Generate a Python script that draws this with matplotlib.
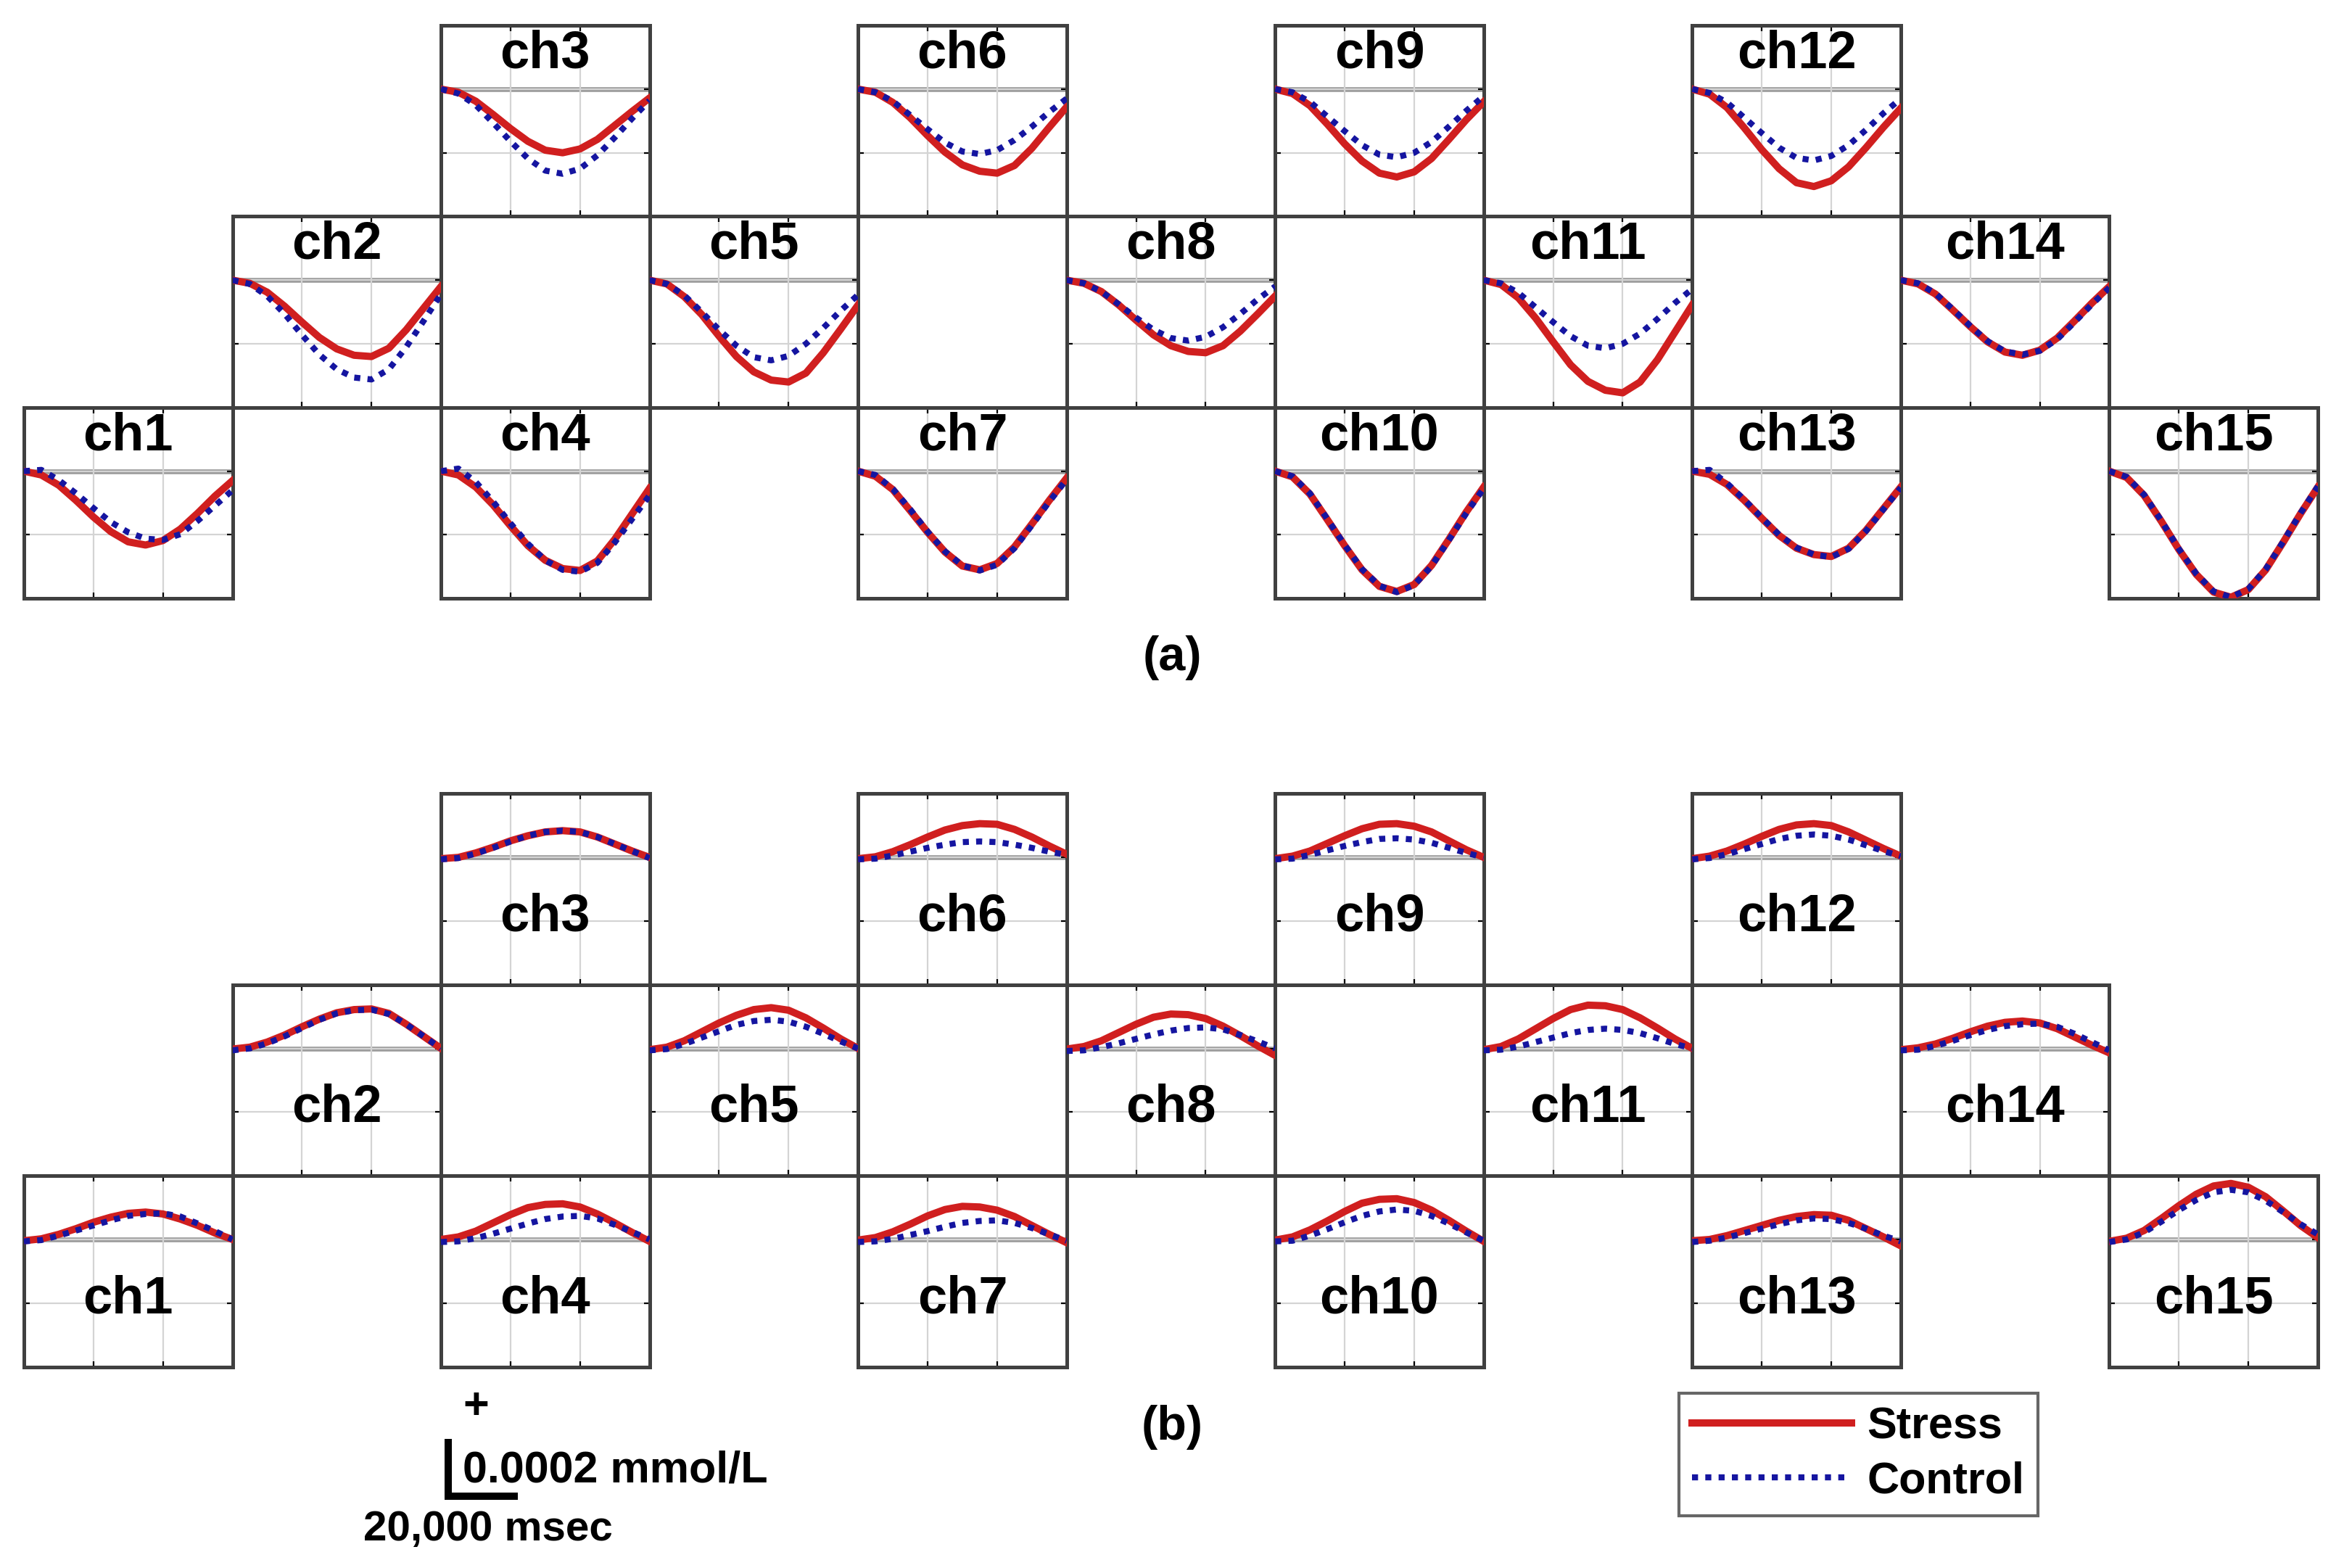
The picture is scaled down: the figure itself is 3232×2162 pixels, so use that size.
import matplotlib
matplotlib.use("Agg")
import matplotlib.pyplot as plt
from matplotlib.lines import Line2D

plt.rcParams['font.family'] = ['Liberation Sans', 'DejaVu Sans']
plt.rcParams['font.weight'] = 'bold'

# time axis (msec) and averaged responses, in units of one y grid step
time_ms = [0, 5000, 10000, 15000, 20000, 25000, 30000, 35000, 40000, 45000, 50000, 55000, 60000]
channels = ['ch1', 'ch2', 'ch3', 'ch4', 'ch5', 'ch6', 'ch7', 'ch8',
            'ch9', 'ch10', 'ch11', 'ch12', 'ch13', 'ch14', 'ch15']

# probe layout: column and row (0 = top) of every channel
chan_col = [0, 1, 2, 2, 3, 4, 4, 5, 6, 6, 7, 8, 8, 9, 10]
chan_row = [2, 1, 0, 2, 1, 0, 2, 1, 0, 2, 1, 0, 2, 1, 2]

# (a)
stress_a = [
    [0, -0.06, -0.22, -0.46, -0.72, -0.95, -1.11, -1.16, -1.09, -0.91, -0.66, -0.39, -0.15],
    [0, -0.05, -0.19, -0.41, -0.66, -0.90, -1.08, -1.18, -1.20, -1.07, -0.78, -0.44, -0.10],
    [0, -0.05, -0.19, -0.40, -0.62, -0.82, -0.96, -1.00, -0.94, -0.79, -0.57, -0.35, -0.14],
    [0, -0.06, -0.25, -0.53, -0.86, -1.17, -1.40, -1.53, -1.56, -1.41, -1.07, -0.67, -0.27],
    [0, -0.06, -0.26, -0.54, -0.88, -1.20, -1.44, -1.57, -1.60, -1.46, -1.14, -0.77, -0.39],
    [0, -0.05, -0.21, -0.45, -0.73, -0.99, -1.19, -1.29, -1.32, -1.20, -0.93, -0.60, -0.28],
    [0, -0.08, -0.29, -0.62, -0.96, -1.27, -1.49, -1.55, -1.45, -1.19, -0.83, -0.46, -0.11],
    [0, -0.05, -0.18, -0.39, -0.63, -0.86, -1.03, -1.12, -1.14, -1.03, -0.80, -0.53, -0.25],
    [0, -0.07, -0.26, -0.55, -0.86, -1.13, -1.32, -1.38, -1.30, -1.09, -0.79, -0.48, -0.20],
    [0, -0.09, -0.36, -0.76, -1.17, -1.55, -1.81, -1.89, -1.78, -1.48, -1.07, -0.64, -0.25],
    [0, -0.07, -0.28, -0.60, -0.97, -1.33, -1.59, -1.73, -1.77, -1.60, -1.25, -0.82, -0.39],
    [0, -0.08, -0.29, -0.61, -0.95, -1.25, -1.47, -1.53, -1.44, -1.22, -0.92, -0.60, -0.30],
    [0, -0.05, -0.21, -0.46, -0.74, -1.01, -1.21, -1.31, -1.34, -1.21, -0.93, -0.59, -0.25],
    [0, -0.06, -0.22, -0.47, -0.73, -0.97, -1.13, -1.18, -1.10, -0.91, -0.64, -0.36, -0.10],
    [0, -0.10, -0.38, -0.79, -1.23, -1.62, -1.90, -1.98, -1.86, -1.55, -1.12, -0.67, -0.25],
]
control_a = [
    [0, 0.02, -0.14, -0.35, -0.58, -0.80, -0.96, -1.06, -1.08, -0.99, -0.78, -0.54, -0.30],
    [0, -0.06, -0.25, -0.53, -0.86, -1.17, -1.40, -1.53, -1.56, -1.40, -1.05, -0.64, -0.22],
    [0, -0.07, -0.25, -0.53, -0.82, -1.09, -1.28, -1.33, -1.25, -1.04, -0.76, -0.46, -0.18],
    [0, 0.04, -0.17, -0.48, -0.82, -1.14, -1.40, -1.55, -1.58, -1.44, -1.12, -0.75, -0.38],
    [0, -0.06, -0.24, -0.50, -0.78, -1.03, -1.21, -1.26, -1.19, -1.00, -0.75, -0.48, -0.23],
    [0, -0.05, -0.19, -0.41, -0.63, -0.84, -0.98, -1.02, -0.96, -0.80, -0.59, -0.36, -0.15],
    [0, -0.06, -0.28, -0.60, -0.95, -1.26, -1.48, -1.56, -1.47, -1.21, -0.85, -0.48, -0.13],
    [0, -0.05, -0.18, -0.38, -0.59, -0.78, -0.91, -0.95, -0.89, -0.74, -0.53, -0.30, -0.10],
    [0, -0.05, -0.20, -0.43, -0.66, -0.88, -1.03, -1.07, -1.00, -0.83, -0.59, -0.34, -0.11],
    [0, -0.08, -0.35, -0.75, -1.16, -1.54, -1.80, -1.90, -1.79, -1.49, -1.08, -0.66, -0.27],
    [0, -0.05, -0.20, -0.43, -0.66, -0.88, -1.03, -1.07, -1.00, -0.84, -0.61, -0.36, -0.14],
    [0, -0.06, -0.21, -0.45, -0.69, -0.92, -1.08, -1.12, -1.05, -0.88, -0.64, -0.38, -0.15],
    [0, 0.02, -0.19, -0.45, -0.73, -1.00, -1.20, -1.31, -1.35, -1.22, -0.94, -0.60, -0.26],
    [0, -0.05, -0.21, -0.46, -0.72, -0.96, -1.12, -1.17, -1.11, -0.93, -0.66, -0.38, -0.12],
    [0, -0.09, -0.37, -0.78, -1.22, -1.61, -1.89, -1.98, -1.85, -1.54, -1.11, -0.66, -0.24],
]

# (b)
stress_b = [
    [-0.02, 0.01, 0.08, 0.17, 0.27, 0.35, 0.41, 0.43, 0.40, 0.32, 0.22, 0.10, 0.00],
    [-0.01, 0.02, 0.10, 0.21, 0.34, 0.46, 0.56, 0.61, 0.62, 0.55, 0.38, 0.19, 0.00],
    [-0.02, 0.00, 0.07, 0.16, 0.26, 0.34, 0.40, 0.42, 0.40, 0.32, 0.21, 0.10, 0.00],
    [0.00, 0.04, 0.13, 0.26, 0.39, 0.50, 0.55, 0.56, 0.51, 0.40, 0.26, 0.11, -0.03],
    [-0.02, 0.02, 0.12, 0.26, 0.40, 0.52, 0.61, 0.64, 0.60, 0.48, 0.32, 0.15, 0.00],
    [-0.02, 0.01, 0.09, 0.20, 0.32, 0.43, 0.50, 0.53, 0.52, 0.44, 0.32, 0.18, 0.05],
    [-0.01, 0.03, 0.12, 0.24, 0.37, 0.47, 0.52, 0.51, 0.46, 0.36, 0.22, 0.08, -0.05],
    [-0.01, 0.03, 0.12, 0.25, 0.38, 0.49, 0.54, 0.53, 0.47, 0.35, 0.20, 0.04, -0.11],
    [-0.02, 0.02, 0.10, 0.22, 0.34, 0.45, 0.52, 0.53, 0.49, 0.40, 0.26, 0.12, 0.00],
    [-0.01, 0.04, 0.15, 0.29, 0.44, 0.57, 0.63, 0.64, 0.58, 0.46, 0.30, 0.13, -0.03],
    [-0.02, 0.03, 0.15, 0.31, 0.47, 0.61, 0.68, 0.67, 0.61, 0.48, 0.32, 0.15, 0.00],
    [-0.02, 0.02, 0.10, 0.21, 0.33, 0.44, 0.51, 0.53, 0.50, 0.40, 0.27, 0.14, 0.02],
    [-0.02, 0.00, 0.06, 0.14, 0.22, 0.30, 0.36, 0.39, 0.38, 0.30, 0.17, 0.04, -0.10],
    [-0.02, 0.01, 0.07, 0.16, 0.26, 0.35, 0.41, 0.43, 0.40, 0.31, 0.18, 0.05, -0.07],
    [-0.03, 0.02, 0.14, 0.33, 0.53, 0.71, 0.84, 0.88, 0.82, 0.67, 0.45, 0.22, 0.03],
]
control_b = [
    [-0.03, -0.01, 0.06, 0.14, 0.22, 0.30, 0.37, 0.40, 0.41, 0.36, 0.25, 0.13, 0.00],
    [-0.03, 0.00, 0.08, 0.19, 0.32, 0.45, 0.55, 0.60, 0.61, 0.54, 0.38, 0.19, 0.00],
    [-0.03, -0.01, 0.06, 0.15, 0.25, 0.34, 0.40, 0.42, 0.40, 0.32, 0.21, 0.10, -0.01],
    [-0.04, -0.03, 0.02, 0.09, 0.17, 0.25, 0.32, 0.36, 0.37, 0.33, 0.23, 0.12, 0.00],
    [-0.03, -0.01, 0.07, 0.17, 0.27, 0.37, 0.43, 0.45, 0.42, 0.34, 0.23, 0.11, 0.00],
    [-0.03, -0.02, 0.03, 0.09, 0.15, 0.20, 0.24, 0.25, 0.24, 0.20, 0.15, 0.09, 0.04],
    [-0.04, -0.03, 0.01, 0.07, 0.13, 0.20, 0.26, 0.29, 0.30, 0.26, 0.18, 0.08, -0.02],
    [-0.04, -0.03, 0.02, 0.08, 0.15, 0.22, 0.28, 0.32, 0.33, 0.30, 0.21, 0.11, 0.00],
    [-0.03, -0.02, 0.04, 0.11, 0.18, 0.24, 0.29, 0.30, 0.28, 0.23, 0.15, 0.07, 0.00],
    [-0.03, -0.02, 0.06, 0.16, 0.27, 0.37, 0.44, 0.47, 0.45, 0.37, 0.25, 0.11, -0.02],
    [-0.03, -0.02, 0.03, 0.10, 0.17, 0.24, 0.29, 0.31, 0.29, 0.24, 0.16, 0.07, 0.00],
    [-0.03, -0.01, 0.05, 0.13, 0.21, 0.29, 0.34, 0.36, 0.34, 0.28, 0.19, 0.10, 0.02],
    [-0.04, -0.02, 0.03, 0.10, 0.17, 0.24, 0.30, 0.33, 0.32, 0.26, 0.17, 0.06, -0.03],
    [-0.03, -0.02, 0.04, 0.12, 0.21, 0.29, 0.35, 0.38, 0.39, 0.34, 0.23, 0.10, -0.03],
    [-0.04, 0.00, 0.11, 0.28, 0.46, 0.62, 0.74, 0.78, 0.74, 0.61, 0.43, 0.24, 0.08],
]

scale_y = 0.9          # 0.0002 mmol/L in grid units
scale_x = 20000        # msec

RED = '#d01f1f'
BLUE = '#1515a0'
DOT = (0, (1, 1.2))

W, H = 3232, 2162
fig = plt.figure(figsize=(W / 200, H / 200), dpi=200)

# geometry in the 1568-wide layout
SW, SH = 1568.0, 1049.0
col_w, row_h, x0 = 139.5, 127.8, 16.0


def add_panel(ch, top, stress, control, label_y):
    c, r = chan_col[ch], chan_row[ch]
    left = (x0 + c * col_w) / SW
    bottom = 1 - (top + (r + 1) * row_h) / SH
    ax = fig.add_axes([left, bottom, col_w / SW, row_h / SH])
    ax.set_xlim(0, 60000)
    ax.set_ylim(-2, 1)
    ax.set_xticks([20000, 40000])
    ax.set_yticks([-1, 0])
    ax.tick_params(direction='in', length=3, width=0.8, labelbottom=False,
                   labelleft=False, right=True, top=True)
    ax.grid(True, color='#d4d4d4', lw=0.8, zorder=0)
    ax.axhline(0, color='#9c9c9c', lw=2.4, zorder=1)
    for s in ax.spines.values():
        s.set_color('#404040')
        s.set_linewidth(1.8)
    ax.plot(time_ms, stress, color=RED, lw=3.6, zorder=3)
    ax.plot(time_ms, control, color=BLUE, lw=3.0, ls=DOT, zorder=4)
    ax.text(0.5, label_y, channels[ch], transform=ax.transAxes, ha='center',
            va='center', fontsize=26, fontweight='bold', zorder=5)
    return ax


for i in range(len(channels)):
    add_panel(i, 17.0, stress_a[i], control_a[i], 0.85)
    add_panel(i, 531.0, stress_b[i], control_b[i], 0.355)

fig.text(784 / SW, 1 - 440 / SH, '(a)', ha='center', va='center', fontsize=24, fontweight='bold')
fig.text(784 / SW, 1 - 955 / SH, '(b)', ha='center', va='center', fontsize=24, fontweight='bold')

# scale bar, drawn on an invisible axes with the same data scale as a panel
sb = fig.add_axes([300 / SW, 1 - 1001 / SH, col_w / SW, row_h / SH])
sb.set_xlim(0, 60000)
sb.set_ylim(0, 3)
sb.axis('off')
sb.plot([0, 0, scale_x], [scale_y, 0, 0], color='black', lw=3.6, solid_joinstyle='miter',
        solid_capstyle='butt', clip_on=False)
sb.text(4000, scale_y * 0.45, '0.0002 mmol/L', fontsize=22, fontweight='bold',
        ha='left', va='center', clip_on=False)
sb.text(-24500, -0.52, '20,000 msec', fontsize=21, fontweight='bold',
        ha='left', va='center', clip_on=False)
sb.text(8000, scale_y + 0.5, '+', fontsize=22, fontweight='bold',
        ha='center', va='center', clip_on=False)

# legend
handles = [Line2D([], [], color=RED, lw=3.6),
           Line2D([], [], color=BLUE, lw=3.0, ls=DOT)]
leg = fig.legend(handles, ['Stress', 'Control'], loc='upper left',
                 bbox_to_anchor=(1123 / SW, 1 - 932 / SH), frameon=True, fancybox=False,
                 fontsize=22, handlelength=3.6, handletextpad=0.35, labelspacing=0.3,
                 borderpad=0.3, borderaxespad=0)
leg.get_frame().set_edgecolor('#404040')
leg.get_frame().set_linewidth(1.5)
for t in leg.get_texts():
    t.set_fontweight('bold')

fig.savefig('out.png', dpi=200, facecolor='white')
